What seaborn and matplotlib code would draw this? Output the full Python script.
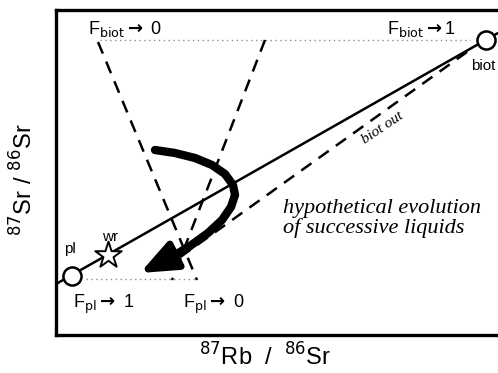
import numpy as np
import pandas as pd
import seaborn as sns
import matplotlib.pyplot as plt

# schematic coordinates (arbitrary units, origin at lower-left of the frame)
solid_x = [0, 442]
solid_y = [51, 302]

minerals = ["pl", "biot"]
mineral_x = [16, 430]
mineral_y = [59, 295]

wr_x = [52]
wr_y = [80]

dot_top_x = [44, 414]
dot_top_y = [295, 295]
dot_bot_x = [30, 141]
dot_bot_y = [56, 56]

dash1_x = [42, 141]
dash1_y = [293, 55]
dash2_x = [209, 116]
dash2_y = [295, 55]
biot_out_x = [411, 109]
biot_out_y = [283, 67]

curve_x = [99, 119, 139, 156, 169, 177, 179, 175, 166, 152, 134, 114]
curve_y = [185, 182, 177, 170, 161, 150, 140, 128, 115, 102, 89, 77]
arrow_tip = (84, 62)

sns.set_style("white")
plt.rcParams["font.family"] = ["Liberation Sans", "DejaVu Sans"]
plt.rcParams["text.color"] = "black"

fig = plt.figure(figsize=(4.98, 3.73), dpi=100)
ax = fig.add_axes([56 / 498, 38 / 373, 454 / 498, 325 / 373])

sns.lineplot(x=solid_x, y=solid_y, ax=ax, color="black", lw=1.8, sort=False, estimator=None)
for xs, ys in [(dot_top_x, dot_top_y), (dot_bot_x, dot_bot_y)]:
    sns.lineplot(x=xs, y=ys, ax=ax, color="0.55", lw=1.0, linestyle=(0, (1, 2.5)),
                 sort=False, estimator=None)
for xs, ys in [(dash1_x, dash1_y), (dash2_x, dash2_y), (biot_out_x, biot_out_y)]:
    sns.lineplot(x=xs, y=ys, ax=ax, color="black", lw=1.8, linestyle=(0, (5, 3.5)),
                 sort=False, estimator=None)

# thick curved arrow (liquid evolution)
sns.lineplot(x=curve_x, y=curve_y, ax=ax, color="black", lw=6, sort=False,
             estimator=None, solid_capstyle="round", solid_joinstyle="round")
ax.annotate("", xy=arrow_tip, xytext=(curve_x[-1] + 4, curve_y[-1] + 2),
            arrowprops=dict(arrowstyle="-|>,head_length=1.1,head_width=0.45",
                            mutation_scale=20, color="black", lw=5, shrinkA=0, shrinkB=0))

sns.scatterplot(x=mineral_x, y=mineral_y, ax=ax, s=170, color="white",
                edgecolor="black", linewidth=1.8, zorder=5)
sns.scatterplot(x=wr_x, y=wr_y, ax=ax, marker="*", s=400, color="white",
                edgecolor="black", linewidth=1.4, zorder=5)

fs = 13
ax.text(32, 301, r"F$_{\mathrm{biot}}$$\mathbf{\rightarrow}$ 0", fontsize=fs, va="baseline")
ax.text(331, 301, r"F$_{\mathrm{biot}}$$\mathbf{\rightarrow}$1", fontsize=fs, va="baseline")
ax.text(17, 27, r"F$_{\mathrm{pl}}$$\mathbf{\rightarrow}$ 1", fontsize=fs, va="baseline")
ax.text(127, 27, r"F$_{\mathrm{pl}}$$\mathbf{\rightarrow}$ 0", fontsize=fs, va="baseline")
ax.text(14, 86, "pl", fontsize=11, ha="center", va="center")
ax.text(54, 98, "wr", fontsize=11, ha="center", va="center")
ax.text(427, 269, "biot", fontsize=11, ha="center", va="center")
ax.text(327, 207, "biot out", fontsize=11, ha="center", va="center", rotation=34,
        family="Liberation Serif", style="italic")
ax.text(227, 136, "hypothetical evolution\nof successive liquids", fontsize=16,
        ha="left", va="top", family="Liberation Serif", style="italic", linespacing=1.0)

ax.set_xlim(0, 454)
ax.set_ylim(0, 325)
ax.set_xticks([])
ax.set_yticks([])
ax.spines["right"].set_visible(False)
for side in ["left", "bottom", "top"]:
    ax.spines[side].set_linewidth(2.4)
    ax.spines[side].set_color("black")

fig.text(265 / 498, 1 - 357 / 373, r"$^{87}$Rb  /  $^{86}$Sr", fontsize=17,
         ha="center", va="center")
fig.text(24 / 498, 1 - 180 / 373, r"$^{87}$Sr / $^{86}$Sr", fontsize=17,
         ha="center", va="center", rotation=90)

fig.savefig("out.png", dpi=100)
